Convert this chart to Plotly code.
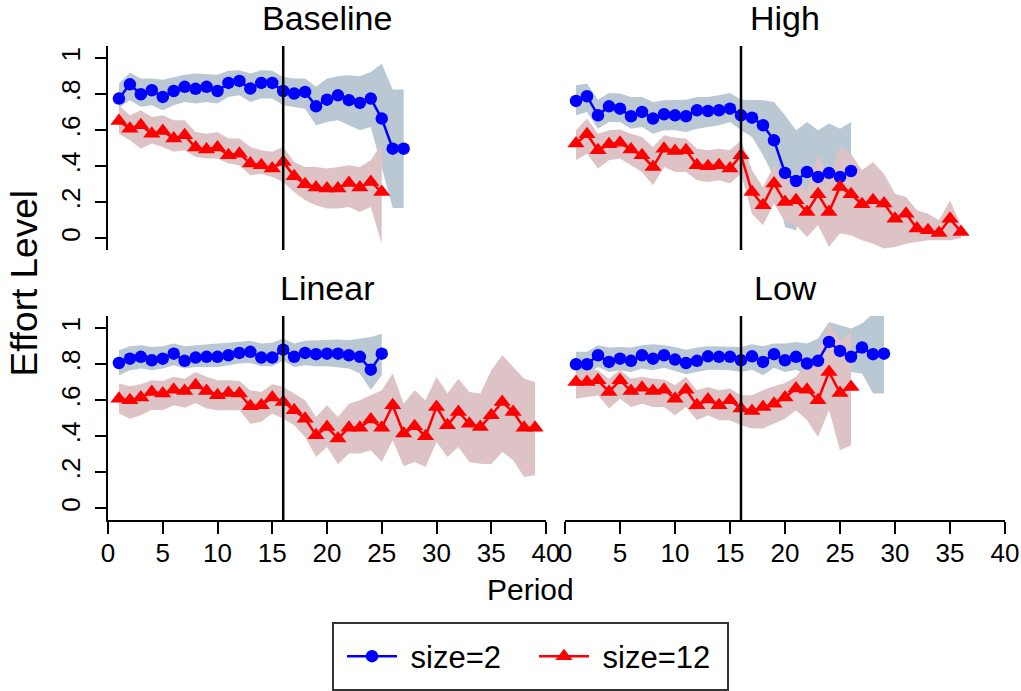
import plotly.graph_objects as go

# ---------------- data ----------------
panel_titles = ["Baseline", "High", "Linear", "Low"]
series_names = ["size=2", "size=12"]
x_tick_vals = [0, 5, 10, 15, 20, 25, 30, 35, 40]
y_tick_vals = [0, 0.2, 0.4, 0.6, 0.8, 1.0]
y_tick_text = ["0", ".2", ".4", ".6", ".8", "1"]
treatment_period = 16

baseline_s2_mean = [0.776, 0.855, 0.800, 0.822, 0.785, 0.818, 0.841, 0.830, 0.841, 0.818, 0.863, 0.874, 0.832, 0.863,
                    0.863, 0.818, 0.804, 0.813, 0.733, 0.770, 0.794, 0.767, 0.752, 0.776, 0.665, 0.498, 0.498]
baseline_s2_hi = [0.860, 0.920, 0.887, 0.887, 0.881, 0.896, 0.909, 0.915, 0.911, 0.909, 0.930, 0.933, 0.915, 0.933,
                  0.930, 0.896, 0.887, 0.887, 0.841, 0.887, 0.900, 0.906, 0.900, 0.924, 0.970, 0.826, 0.826]
baseline_s2_lo = [0.725, 0.767, 0.730, 0.739, 0.711, 0.739, 0.757, 0.748, 0.757, 0.748, 0.785, 0.794, 0.757, 0.776,
                  0.776, 0.739, 0.730, 0.720, 0.628, 0.646, 0.656, 0.628, 0.600, 0.618, 0.396, 0.168, 0.168]
baseline_s12_mean = [0.652, 0.609, 0.628, 0.581, 0.596, 0.554, 0.572, 0.504, 0.493, 0.504, 0.461, 0.470, 0.415,
                     0.406, 0.387, 0.424, 0.344, 0.300, 0.282, 0.276, 0.276, 0.307, 0.282, 0.313, 0.257]
baseline_s12_hi = [0.739, 0.683, 0.711, 0.674, 0.683, 0.656, 0.656, 0.591, 0.581, 0.591, 0.554, 0.554, 0.507,
                   0.489, 0.480, 0.507, 0.424, 0.396, 0.396, 0.387, 0.396, 0.406, 0.396, 0.433, 0.526]
baseline_s12_lo = [0.581, 0.544, 0.498, 0.526, 0.507, 0.480, 0.489, 0.452, 0.443, 0.443, 0.415, 0.406, 0.350,
                   0.359, 0.341, 0.313, 0.257, 0.211, 0.183, 0.165, 0.165, 0.174, 0.146, 0.174, -0.030]

high_s2_mean = [0.763, 0.789, 0.683, 0.733, 0.720, 0.678, 0.702, 0.665, 0.689, 0.683, 0.678, 0.711, 0.707, 0.711,
                0.720, 0.683, 0.670, 0.628, 0.544, 0.363, 0.318, 0.368, 0.341, 0.363, 0.341, 0.374]
high_s2_hi = [0.850, 0.859, 0.770, 0.807, 0.804, 0.785, 0.785, 0.757, 0.767, 0.770, 0.770, 0.785, 0.785, 0.794,
              0.807, 0.770, 0.770, 0.767, 0.757, 0.683, 0.600, 0.646, 0.600, 0.637, 0.609, 0.646]
high_s2_lo = [0.683, 0.702, 0.609, 0.646, 0.646, 0.609, 0.618, 0.581, 0.600, 0.600, 0.591, 0.609, 0.618, 0.628,
              0.646, 0.600, 0.563, 0.461, 0.341, 0.063, 0.044, 0.267, 0.230, 0.267, 0.248, 0.322]
high_s12_mean = [0.526, 0.578, 0.489, 0.522, 0.530, 0.493, 0.461, 0.396, 0.498, 0.485, 0.489, 0.406, 0.400, 0.406,
                 0.387, 0.461, 0.257, 0.183, 0.304, 0.202, 0.211, 0.146, 0.244, 0.146, 0.285, 0.244, 0.189, 0.211,
                 0.193, 0.109, 0.137, 0.054, 0.044, 0.030, 0.109, 0.035]
high_s12_hi = [0.600, 0.665, 0.581, 0.600, 0.604, 0.581, 0.563, 0.507, 0.572, 0.559, 0.554, 0.498, 0.489, 0.498,
               0.489, 0.544, 0.378, 0.285, 0.406, 0.341, 0.322, 0.267, 0.461, 0.341, 0.507, 0.470, 0.378, 0.424,
               0.359, 0.248, 0.230, 0.156, 0.137, 0.100, 0.211, 0.070]
high_s12_lo = [0.433, 0.470, 0.387, 0.433, 0.443, 0.406, 0.368, 0.294, 0.396, 0.368, 0.368, 0.322, 0.313, 0.322,
               0.304, 0.359, 0.137, 0.072, 0.193, 0.091, 0.072, 0.007, 0.072, -0.048, 0.026, 0.017, -0.011, -0.030,
               -0.057, -0.048, -0.030, -0.020, -0.011, -0.011, -0.011, 0.000]

linear_s2_mean = [0.807, 0.831, 0.841, 0.822, 0.831, 0.859, 0.819, 0.837, 0.841, 0.841, 0.850, 0.863, 0.869, 0.837,
                  0.837, 0.881, 0.841, 0.863, 0.856, 0.859, 0.859, 0.850, 0.841, 0.770, 0.859]
linear_s2_hi = [0.878, 0.900, 0.906, 0.896, 0.900, 0.915, 0.900, 0.906, 0.911, 0.915, 0.919, 0.924, 0.930, 0.915,
                0.919, 0.943, 0.915, 0.930, 0.933, 0.933, 0.937, 0.933, 0.943, 0.952, 0.970]
linear_s2_lo = [0.739, 0.767, 0.776, 0.767, 0.776, 0.794, 0.776, 0.785, 0.785, 0.785, 0.794, 0.804, 0.807, 0.789,
                0.789, 0.819, 0.785, 0.794, 0.789, 0.789, 0.781, 0.776, 0.748, 0.659, 0.739]
linear_s12_mean = [0.609, 0.600, 0.615, 0.646, 0.637, 0.659, 0.652, 0.683, 0.652, 0.628, 0.641, 0.637, 0.567,
                   0.572, 0.615, 0.591, 0.544, 0.498, 0.406, 0.452, 0.387, 0.448, 0.448, 0.493, 0.448, 0.572,
                   0.415, 0.456, 0.400, 0.563, 0.461, 0.535, 0.470, 0.452, 0.517, 0.590, 0.535, 0.448, 0.448]
linear_s12_hi = [0.693, 0.678, 0.689, 0.711, 0.707, 0.730, 0.720, 0.757, 0.730, 0.711, 0.711, 0.707, 0.656,
                 0.646, 0.689, 0.674, 0.637, 0.600, 0.507, 0.572, 0.507, 0.581, 0.600, 0.628, 0.656, 0.748,
                 0.581, 0.656, 0.600, 0.730, 0.637, 0.720, 0.646, 0.637, 0.767, 0.850, 0.785, 0.720, 0.702]
linear_s12_lo = [0.526, 0.498, 0.517, 0.548, 0.544, 0.572, 0.559, 0.585, 0.554, 0.544, 0.544, 0.544, 0.470,
                 0.480, 0.526, 0.498, 0.461, 0.396, 0.285, 0.341, 0.244, 0.304, 0.304, 0.322, 0.257, 0.378,
                 0.233, 0.257, 0.230, 0.368, 0.285, 0.341, 0.257, 0.248, 0.244, 0.313, 0.267, 0.174, 0.183]

low_s2_mean = [0.800, 0.800, 0.850, 0.813, 0.831, 0.819, 0.850, 0.831, 0.850, 0.826, 0.807, 0.819, 0.844, 0.841,
               0.841, 0.822, 0.844, 0.813, 0.856, 0.822, 0.841, 0.804, 0.819, 0.924, 0.874, 0.841, 0.893, 0.856,
               0.859]
low_s2_hi = [0.869, 0.869, 0.906, 0.893, 0.896, 0.893, 0.906, 0.911, 0.906, 0.896, 0.881, 0.893, 0.900, 0.900,
             0.900, 0.896, 0.911, 0.900, 0.915, 0.915, 0.924, 0.915, 0.943, 1.035, 1.017, 0.998, 1.026, 1.081,
             1.081]
low_s2_lo = [0.748, 0.739, 0.785, 0.757, 0.767, 0.757, 0.776, 0.767, 0.781, 0.763, 0.744, 0.757, 0.770, 0.770,
             0.767, 0.757, 0.770, 0.739, 0.781, 0.757, 0.770, 0.739, 0.748, 0.841, 0.776, 0.757, 0.748, 0.637,
             0.637]
low_s12_mean = [0.702, 0.702, 0.711, 0.646, 0.711, 0.652, 0.670, 0.652, 0.659, 0.609, 0.659, 0.572, 0.604, 0.572,
                0.600, 0.554, 0.541, 0.563, 0.581, 0.615, 0.665, 0.659, 0.600, 0.757, 0.641, 0.674]
low_s12_hi = [0.757, 0.767, 0.767, 0.720, 0.770, 0.720, 0.730, 0.720, 0.715, 0.683, 0.730, 0.656, 0.674, 0.656,
              0.665, 0.628, 0.628, 0.656, 0.678, 0.696, 0.730, 0.804, 0.859, 1.026, 0.933, 0.980]
low_s12_lo = [0.609, 0.618, 0.628, 0.554, 0.609, 0.563, 0.581, 0.563, 0.563, 0.517, 0.563, 0.489, 0.517, 0.489,
              0.489, 0.461, 0.443, 0.443, 0.470, 0.498, 0.544, 0.489, 0.396, 0.544, 0.322, 0.350]

panels = [
    (baseline_s2_mean, baseline_s2_hi, baseline_s2_lo, baseline_s12_mean, baseline_s12_hi, baseline_s12_lo),
    (high_s2_mean, high_s2_hi, high_s2_lo, high_s12_mean, high_s12_hi, high_s12_lo),
    (linear_s2_mean, linear_s2_hi, linear_s2_lo, linear_s12_mean, linear_s12_hi, linear_s12_lo),
    (low_s2_mean, low_s2_hi, low_s2_lo, low_s12_mean, low_s12_hi, low_s12_lo),
]

# ---------------- styling ----------------
W, H = 1021, 691
FONT = "Liberation Sans, Arial, Helvetica, sans-serif"
BLUE, RED = "#0000FF", "#FF0000"
BLUE_BAND, RED_BAND = "rgb(186,200,212)", "rgb(222,195,198)"
YRANGE = [-0.065, 1.068]
NBSP = "\u00a0"

x_dom = {"L": [108 / W, 546 / W], "R": [565 / W, 1005 / W]}
y_dom = {"T": [1 - 250 / H, 1 - 46 / H], "B": [1 - 520 / H, 1 - 316 / H]}
pos = [("L", "T"), ("R", "T"), ("L", "B"), ("R", "B")]

fig = go.Figure()

def ax_suffix(i):
    return "" if i == 1 else str(i)

for i, (data, (cx, cy)) in enumerate(zip(panels, pos), start=1):
    m2, h2, l2, m12, h12, l12 = data
    xa, ya = "x" + ax_suffix(i), "y" + ax_suffix(i)
    p2 = list(range(1, len(m2) + 1))
    p12 = list(range(1, len(m12) + 1))
    for per, hi, lo, col in [(p2, h2, l2, BLUE_BAND), (p12, h12, l12, RED_BAND)]:
        fig.add_trace(go.Scatter(x=per + per[::-1], y=hi + lo[::-1], fill="toself", fillcolor=col,
                                 mode="lines", line=dict(width=0, color=col), hoverinfo="skip",
                                 showlegend=False, xaxis=xa, yaxis=ya))
    fig.add_trace(go.Scatter(x=p2, y=m2, mode="lines+markers", name=NBSP + series_names[0],
                             line=dict(color=BLUE, width=2.5),
                             marker=dict(symbol="circle", size=12.5, color=BLUE),
                             showlegend=(i == 1), legend="legend", cliponaxis=False,
                             xaxis=xa, yaxis=ya))
    fig.add_trace(go.Scatter(x=p12, y=m12, mode="lines+markers", name=NBSP + series_names[1],
                             line=dict(color=RED, width=2.5),
                             marker=dict(symbol="triangle-up", size=15, color=RED),
                             showlegend=(i == 1), legend="legend2", cliponaxis=False,
                             xaxis=xa, yaxis=ya))

    is_bottom = cy == "B"
    is_left = cx == "L"
    xaxis = dict(domain=x_dom[cx], range=[0, 40], anchor=ya, showgrid=False, zeroline=False,
                 automargin=False, fixedrange=True)
    if is_bottom:
        xaxis.update(showline=True, linecolor="black", linewidth=1.5, ticks="outside", ticklen=12,
                     tickwidth=1.5, tickcolor="black", tickvals=x_tick_vals, ticklabelstandoff=-3,
                     tickfont=dict(family=FONT, size=26, color="black"))
    else:
        xaxis.update(visible=False)
    yaxis = dict(domain=y_dom[cy], range=YRANGE, anchor=xa, showgrid=False, zeroline=False,
                 automargin=False, fixedrange=True)
    if is_left:
        yaxis.update(showline=True, linecolor="black", linewidth=1.5, ticks="outside", ticklen=11,
                     tickwidth=1.5, tickcolor="black", tickvals=y_tick_vals, ticktext=y_tick_text,
                     tickangle=-90, ticklabelstandoff=5,
                     tickfont=dict(family=FONT, size=26, color="black"))
    else:
        yaxis.update(visible=False)
    fig.update_layout(**{"xaxis" + ax_suffix(i): xaxis, "yaxis" + ax_suffix(i): yaxis})

    fig.add_shape(type="line", xref=xa, yref=ya + " domain", x0=treatment_period, x1=treatment_period,
                  y0=0, y1=1, line=dict(color="black", width=2.5))
    fig.add_annotation(text=panel_titles[i - 1], xref="paper", yref="paper",
                       x=sum(x_dom[cx]) / 2, y=y_dom[cy][1] + 28 / H, xanchor="center", yanchor="middle",
                       showarrow=False, font=dict(family=FONT, size=34, color="black"))

fig.add_annotation(text="Effort Level", xref="paper", yref="paper", x=24.5 / W, y=1 - 284 / H,
                   textangle=-90, showarrow=False, xanchor="center", yanchor="middle",
                   font=dict(family=FONT, size=37, color="black"))
fig.add_annotation(text="Period", xref="paper", yref="paper", x=530 / W, y=1 - 589 / H,
                   showarrow=False, xanchor="center", yanchor="middle",
                   font=dict(family=FONT, size=30, color="black"))

# legend frame
fig.add_shape(type="rect", xref="paper", yref="paper", x0=333 / W, x1=728 / W, y0=1 - 690 / H, y1=1 - 623 / H,
              line=dict(color="#333333", width=2), fillcolor="rgba(0,0,0,0)")

legend_common = dict(orientation="h", yanchor="middle", y=1 - 656.5 / H, xanchor="left",
                     bgcolor="rgba(0,0,0,0)", borderwidth=0, itemwidth=50,
                     font=dict(family=FONT, size=31, color="black"))

fig.update_layout(
    width=W, height=H,
    margin=dict(l=0, r=0, t=0, b=0),
    paper_bgcolor="white", plot_bgcolor="white",
    font=dict(family=FONT, color="black"),
    showlegend=True,
    legend=dict(legend_common, x=342 / W),
    legend2=dict(legend_common, x=534 / W),
)

fig.write_html("out.html")
